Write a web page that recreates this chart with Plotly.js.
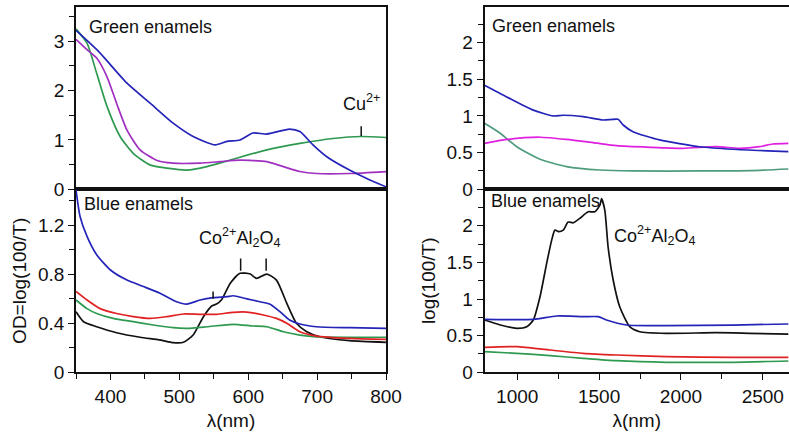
<!DOCTYPE html>
<html>
<head>
<meta charset="utf-8">
<script src="https://cdn.plot.ly/plotly-3.0.1.min.js"></script>
<style>html,body{margin:0;padding:0;background:#fff;}#chart{width:789px;height:436px;}</style>
</head>
<body>
<div id="chart"></div>
<script>
// ---- Green enamels, UV-Vis (top left) ----
const gvBlueX   = [350,383,424,458,491,520,552,569,588,607,627,660,675,694,714,747,772,800];
const gvBlueY   = [3.22,2.79,2.15,1.74,1.34,1.07,0.90,0.97,1.00,1.14,1.12,1.22,1.17,0.90,0.66,0.39,0.22,0.05];
const gvGreenX  = [350,366,380,395,414,433,458,482,511,540,578,627,675,723,764,800];
const gvGreenY  = [3.25,2.96,2.35,1.68,1.07,0.73,0.49,0.43,0.39,0.46,0.61,0.80,0.93,1.03,1.07,1.05];
const gvPurpleX = [350,366,380,395,409,424,443,467,491,530,559,588,627,651,675,699,747,800];
const gvPurpleY = [3.04,2.83,2.66,2.28,1.74,1.20,0.80,0.59,0.53,0.53,0.56,0.59,0.56,0.46,0.36,0.32,0.32,0.36];

// ---- Blue enamels, UV-Vis (bottom left) ----
const bvBlueX  = [350,356,366,380,400,424,448,472,496,511,530,549,569,578,598,617,631,646,660,675,699,747,800];
const bvBlueY  = [1.49,1.27,1.11,0.96,0.835,0.753,0.70,0.645,0.576,0.557,0.59,0.61,0.617,0.625,0.60,0.576,0.557,0.495,0.427,0.394,0.372,0.364,0.359];
const bvRedX   = [350,366,385,409,433,458,482,506,530,554,578,598,622,641,656,675,699,747,800];
const bvRedY   = [0.66,0.59,0.52,0.48,0.455,0.44,0.455,0.476,0.473,0.473,0.49,0.492,0.468,0.44,0.40,0.331,0.296,0.277,0.269];
const bvGreenX = [350,366,380,404,433,462,491,511,540,578,607,627,651,675,699,800];
const bvGreenY = [0.59,0.52,0.48,0.44,0.413,0.386,0.364,0.359,0.372,0.392,0.378,0.372,0.331,0.304,0.29,0.286];
const bvBlackX = [350,361,380,409,443,472,491,506,520,535,547,554,561,574,588,603,612,627,641,656,670,685,704,747,800];
const bvBlackY = [0.495,0.413,0.372,0.323,0.286,0.264,0.242,0.245,0.304,0.454,0.541,0.557,0.59,0.727,0.808,0.802,0.767,0.802,0.753,0.563,0.40,0.331,0.29,0.258,0.245];

// ---- Green enamels, NIR (top right) ----
const gnBlueX    = [800,936,1098,1220,1281,1403,1525,1616,1647,1707,1870,2114,2317,2656];
const gnBlueY    = [1.42,1.26,1.08,1.00,1.01,0.99,0.945,0.955,0.877,0.786,0.673,0.58,0.546,0.513];
const gnMagentaX = [800,936,1139,1301,1463,1606,1809,2012,2215,2357,2479,2560,2656];
const gnMagentaY = [0.627,0.68,0.71,0.68,0.636,0.595,0.573,0.559,0.581,0.559,0.581,0.618,0.627];
const gnTealX    = [800,896,997,1139,1301,1505,1707,2114,2418,2656];
const gnTealY    = [0.90,0.764,0.58,0.41,0.31,0.263,0.25,0.25,0.254,0.277];

// ---- Blue enamels, NIR (bottom right) ----
const bnBlackX = [800,896,997,1058,1098,1139,1180,1210,1230,1251,1281,1311,1342,1382,1433,1474,1505,1515,1535,1555,1586,1626,1687,1748,1910,2215,2418,2656];
const bnBlackY = [0.713,0.645,0.60,0.622,0.713,1.03,1.49,1.80,1.94,1.92,1.94,2.05,2.04,2.10,2.19,2.19,2.28,2.37,2.21,1.71,1.26,0.895,0.622,0.554,0.532,0.54,0.532,0.522];
const bnBlueX  = [800,1098,1241,1403,1494,1545,1667,1910,2317,2656];
const bnBlueY  = [0.723,0.723,0.768,0.759,0.759,0.713,0.645,0.636,0.645,0.659];
const bnRedX   = [800,997,1200,1403,1606,1910,2317,2656];
const bnRedY   = [0.341,0.35,0.304,0.259,0.236,0.213,0.205,0.205];
const bnGreenX = [800,997,1200,1403,1606,1910,2317,2656];
const bnGreenY = [0.281,0.259,0.227,0.191,0.158,0.136,0.136,0.154];

// peak marks (nm)
const cuMarkX = [764];
const coVisMarkX = [549, 589, 626];

const C = {blue:'#2424b8', green:'#2e9a50', purple:'#a030c0', magenta:'#e020e0', teal:'#4e9c7c', red:'#e02222', black:'#111111'};
const LW = 1.7;
function tr(x, y, color, xa, ya) {
  return {x:x, y:y, type:'scatter', mode:'lines', xaxis:xa, yaxis:ya,
    line:{color:color, width:LW, shape:'spline', smoothing:0.6}, hoverinfo:'skip', showlegend:false};
}
const data = [
  tr(gvGreenX, gvGreenY, C.green, 'x', 'y'),
  tr(gvPurpleX, gvPurpleY, C.purple, 'x', 'y'),
  tr(gvBlueX, gvBlueY, C.blue, 'x', 'y'),
  tr(bvBlackX, bvBlackY, C.black, 'x3', 'y3'),
  tr(bvGreenX, bvGreenY, C.green, 'x3', 'y3'),
  tr(bvRedX, bvRedY, C.red, 'x3', 'y3'),
  tr(bvBlueX, bvBlueY, C.blue, 'x3', 'y3'),
  tr(gnTealX, gnTealY, C.teal, 'x2', 'y2'),
  tr(gnMagentaX, gnMagentaY, C.magenta, 'x2', 'y2'),
  tr(gnBlueX, gnBlueY, C.blue, 'x2', 'y2'),
  tr(bnGreenX, bnGreenY, C.green, 'x4', 'y4'),
  tr(bnRedX, bnRedY, C.red, 'x4', 'y4'),
  tr(bnBlackX, bnBlackY, C.black, 'x4', 'y4'),
  tr(bnBlueX, bnBlueY, C.blue, 'x4', 'y4'),
];

const FONT = 'Arial, "Liberation Sans", sans-serif';
const TF = {family:FONT, size:19, color:'#111'};
const AF = {family:FONT, size:18, color:'#111'};
const W = 789, H = 436;
const dLeft = [76/W, 386/W];
const dRight = [484.5/W, 1];
const yTop = [1-189.3/H, 1-6.7/H];
const yBot = [1-372.3/H, 1-189.3/H];

function xax(domain, range, anchor, labels, dtick, minor, mirror) {
  return {domain:domain, range:range, anchor:anchor, showline:true, linecolor:'#111', linewidth:1.6,
    mirror:mirror, showgrid:false, zeroline:false,
    ticks: labels ? 'outside' : '', ticklen:6, tickwidth:1.4, tickcolor:'#111',
    showticklabels:labels, dtick:dtick, tick0:0, tickfont:TF,
    minor: labels ? {dtick:minor, ticks:'outside', ticklen:5, tickwidth:1.4, tickcolor:'#111'} : undefined};
}
function yax(domain, range, anchor, dtick, minor, mirror, title) {
  const a = {domain:domain, range:range, anchor:anchor, showline:true, linecolor:'#111', linewidth:1.6,
    mirror:mirror, showgrid:false, zeroline:false, ticks:'outside', ticklen:6, tickwidth:1.4, tickcolor:'#111',
    dtick:dtick, tick0:0, tickfont:TF,
    minor:{dtick:minor, ticks:'outside', ticklen:5, tickwidth:1.4, tickcolor:'#111'}};
  if (title) a.title = {text:title, font:TF, standoff:6};
  return a;
}

const xl = xax(dLeft, [350,800], 'y', false, 100, 50, true);
const xr = xax(dRight, [800,2660], 'y2', false, 500, 250, true);
const xl3 = xax(dLeft, [350,800], 'y3', true, 100, 50, true);
xl3.title = {text:'λ(nm)', font:TF, standoff:8};
const xr4 = xax(dRight, [800,2660], 'y4', true, 500, 250, true);
xr4.title = {text:'λ(nm)', font:TF, standoff:8};

const layout = {
  width:W, height:H, margin:{l:0, r:0, t:0, b:0}, paper_bgcolor:'#fff', plot_bgcolor:'#fff',
  font:{family:FONT, color:'#111'}, showlegend:false,
  xaxis: xl,
  yaxis: yax(yTop, [0,3.7], 'x', 1, 0.5, true),
  xaxis2: xr,
  yaxis2: yax(yTop, [0,2.49], 'x2', 0.5, 0.25, false),
  xaxis3: xl3,
  yaxis3: yax(yBot, [0,1.494], 'x3', 0.4, 0.2, true, 'OD=log(100/T)'),
  xaxis4: xr4,
  yaxis4: yax(yBot, [0,2.497], 'x4', 0.5, 0.25, false, 'log(100/T)'),
  annotations: [
    {xref:'x', yref:'y', x:366, y:3.29, text:'Green enamels', showarrow:false, xanchor:'left', yanchor:'middle', font:AF},
    {xref:'x', yref:'y', x:cuMarkX[0], y:1.75, text:'Cu<sup>2+</sup>', showarrow:false, xanchor:'center', yanchor:'middle', font:AF},
    {xref:'x3', yref:'y3', x:359, y:1.374, text:'Blue enamels', showarrow:false, xanchor:'left', yanchor:'middle', font:AF},
    {xref:'x3', yref:'y3', x:587, y:1.10, text:'Co<sup>2+</sup>Al<sub>2</sub>O<sub>4</sub>', showarrow:false, xanchor:'center', yanchor:'middle', font:AF},
    {xref:'x2', yref:'y2', x:835, y:2.23, text:'Green enamels', showarrow:false, xanchor:'left', yanchor:'middle', font:AF},
    {xref:'x4', yref:'y4', x:829, y:2.34, text:'Blue enamels', showarrow:false, xanchor:'left', yanchor:'middle', font:AF},
    {xref:'x4', yref:'y4', x:1840, y:1.87, text:'Co<sup>2+</sup>Al<sub>2</sub>O<sub>4</sub>', showarrow:false, xanchor:'center', yanchor:'middle', font:AF},
  ],
  shapes: [
    {type:'line', xref:'x', yref:'y', x0:cuMarkX[0], x1:cuMarkX[0], y0:1.08, y1:1.28, line:{color:'#111', width:1.5}},
    {type:'line', xref:'x3', yref:'y3', x0:coVisMarkX[0], x1:coVisMarkX[0], y0:0.60, y1:0.66, line:{color:'#111', width:1.5}},
    {type:'line', xref:'x3', yref:'y3', x0:coVisMarkX[1], x1:coVisMarkX[1], y0:0.83, y1:0.93, line:{color:'#111', width:1.5}},
    {type:'line', xref:'x3', yref:'y3', x0:coVisMarkX[2], x1:coVisMarkX[2], y0:0.83, y1:0.93, line:{color:'#111', width:1.5}},
  ]
};
Plotly.newPlot('chart', data, layout, {displayModeBar:false});
</script>
</body>
</html>
